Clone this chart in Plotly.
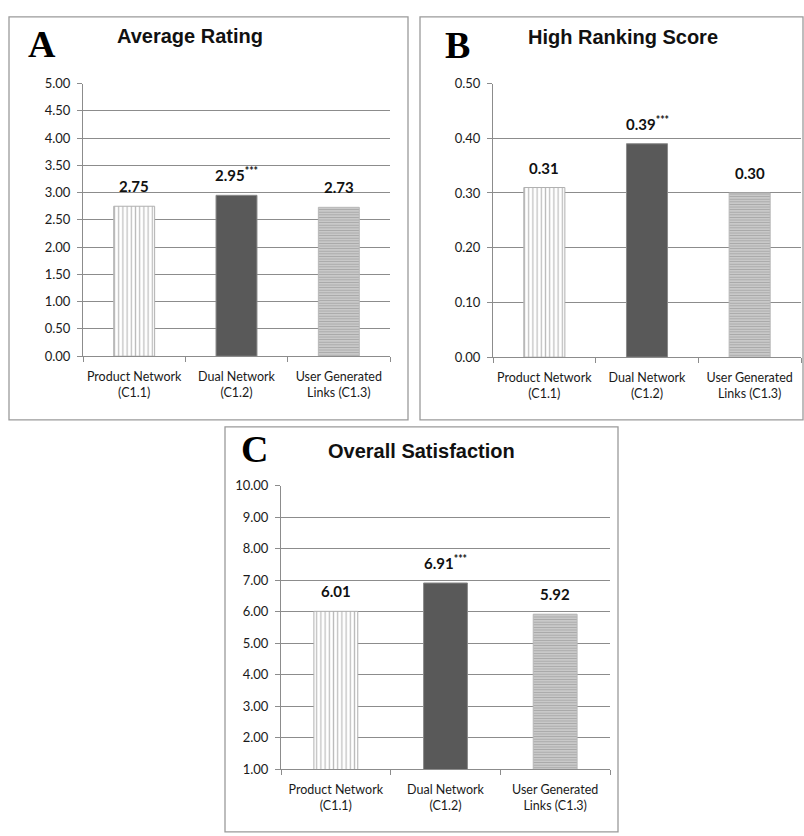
import plotly.graph_objects as go

# ---------------- data ----------------
categories = ["Product Network<br>(C1.1)", "Dual Network<br>(C1.2)", "User Generated<br>Links (C1.3)"]
avg_rating = [2.75, 2.95, 2.73]
high_ranking = [0.31, 0.39, 0.30]
overall_sat = [6.01, 6.91, 5.92]
significance = ["", "***", ""]
panel_titles = ["Average Rating", "High Ranking Score", "Overall Satisfaction"]
panel_letters = ["A", "B", "C"]

W, H = 804, 836
def px(x):
    return x / W
def py(y):
    return 1 - y / H

GRID = "#8c8c8c"
TICKFONT = dict(family="Lato, Open Sans, sans-serif", size=13, color="#1a1a1a")
CATFONT = dict(family="Lato, Open Sans, sans-serif", size=12.5, color="#1a1a1a")

panels = [
    dict(vals=avg_rating, xa="x", ya="y", rng=[0, 5], dtick=0.5,
         dom_x=[83, 390], dom_y=[77, 355], box=[9, 9, 408, 420],
         title_xy=(190, 29), letter_xy=(42, 37)),
    dict(vals=high_ranking, xa="x2", ya="y2", rng=[0, 0.5], dtick=0.1,
         dom_x=[493, 801], dom_y=[77, 356], box=[420, 9, 803, 420],
         title_xy=(623, 30), letter_xy=(457, 38)),
    dict(vals=overall_sat, xa="x3", ya="y3", rng=[1, 10], dtick=1,
         dom_x=[281, 610], dom_y=[487, 776], box=[225, 427, 618, 840],
         title_xy=(421, 452), letter_xy=(254, 450)),
]

fig = go.Figure()
layout = dict(
    width=W, height=H, margin=dict(l=0, r=0, t=0, b=0),
    paper_bgcolor="white", plot_bgcolor="white", showlegend=False,
    bargap=0.6,
)
shapes = []
annotations = []

pattern_styles = [
    dict(marker_color="white",
         marker_pattern=dict(shape="|", size=4.2, solidity=0.3, fgcolor="#7a7a7a", bgcolor="white", fillmode="overlay"),
         line_color="#b0b0b0"),
    dict(marker_color="#595959", marker_pattern=dict(shape=""), line_color="#8a8a8a"),
    dict(marker_color="#c8c8c8",
         marker_pattern=dict(shape="-", size=2.6, solidity=0.5, fgcolor="#7a7a7a", bgcolor="#d4d4d4", fillmode="overlay"),
         line_color="#b8b8b8"),
]

for i, p in enumerate(panels):
    for j, cat in enumerate(categories):
        st = pattern_styles[j]
        fig.add_trace(go.Bar(
            x=[cat], y=[p["vals"][j]], xaxis=p["xa"], yaxis=p["ya"],
            width=0.4,
            marker=dict(color=st["marker_color"], pattern=st["marker_pattern"],
                        line=dict(color=st["line_color"], width=1)),
            hoverinfo="skip",
        ))
        txt = f"{p['vals'][j]:.2f}"
        if significance[j]:
            txt += f"<sup>{significance[j]}</sup>"
        annotations.append(dict(
            x=cat, y=p["vals"][j], xref=p["xa"], yref=p["ya"],
            text=txt, showarrow=False, yanchor="bottom", yshift=9,
            xanchor="center",
            font=dict(family="Lato, Open Sans, sans-serif", size=15, color="#111111", weight="bold"),
        ))
    xname = "xaxis" if p["xa"] == "x" else "xaxis" + p["xa"][1:]
    yname = "yaxis" if p["ya"] == "y" else "yaxis" + p["ya"][1:]
    layout[xname] = dict(
        domain=[px(p["dom_x"][0]), px(p["dom_x"][1])], anchor=p["ya"],
        type="category", categoryorder="array", categoryarray=categories,
        showline=True, linecolor=GRID, linewidth=1,
        ticks="outside", tickson="boundaries", ticklen=5, tickcolor=GRID,
        showgrid=False, tickfont=CATFONT, fixedrange=True, tickangle=0,
        range=[-0.5, 2.5], ticklabelstandoff=9,
    )
    layout[yname] = dict(
        domain=[py(p["dom_y"][1]), py(p["dom_y"][0])], anchor=p["xa"],
        range=p["rng"], dtick=p["dtick"], tick0=0, tickformat=".2f",
        showline=True, linecolor=GRID, linewidth=1,
        ticks="outside", ticklen=5, tickcolor=GRID,
        showgrid=True, gridcolor=GRID, gridwidth=1,
        zeroline=False, tickfont=TICKFONT, fixedrange=True,
        ticklabelstandoff=4,
    )
    bx = p["box"]
    shapes.append(dict(type="rect", xref="paper", yref="paper",
                       x0=px(bx[0]), x1=px(bx[2]), y0=py(bx[3]), y1=py(bx[1]),
                       line=dict(color="#9a9a9a", width=1.3), fillcolor="rgba(0,0,0,0)",
                       layer="below"))
    annotations.append(dict(
        x=px(p["title_xy"][0]), y=py(p["title_xy"][1]), xref="paper", yref="paper",
        text=panel_titles[i], showarrow=False, xanchor="center", yanchor="middle",
        font=dict(family="Liberation Sans, Arial", size=20,
                  color="#111111", weight="bold"),
    ))
    annotations.append(dict(
        x=px(p["letter_xy"][0]), y=py(p["letter_xy"][1]), xref="paper", yref="paper",
        text=panel_letters[i], showarrow=False, xanchor="center", yanchor="middle",
        font=dict(family="Liberation Serif, Times New Roman, serif", size=38,
                  color="#000000", weight="bold"),
    ))

layout["shapes"] = shapes
layout["annotations"] = annotations
fig.update_layout(**layout)

fig.write_html("out.html", config={"displayModeBar": False},
               post_script="document.body.style.margin='0';document.body.style.padding='0';document.body.style.overflow='hidden';")
